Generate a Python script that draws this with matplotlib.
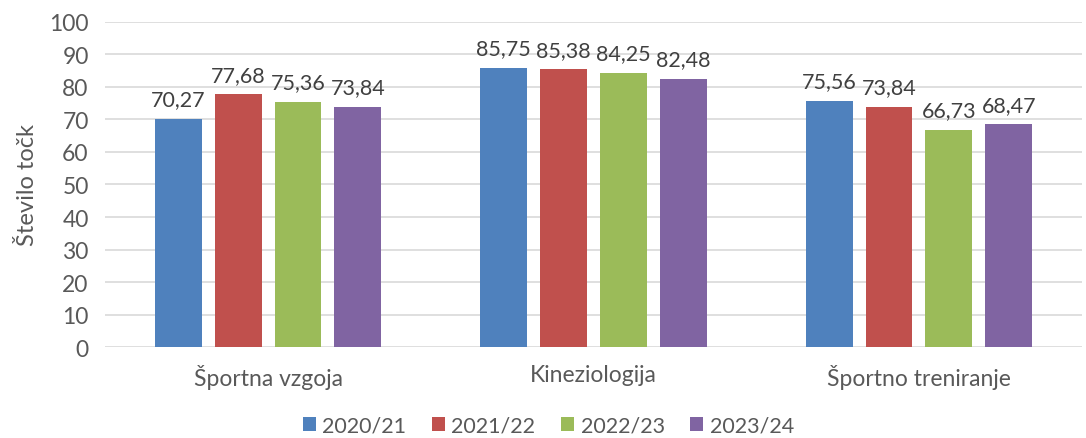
import matplotlib.pyplot as plt
import numpy as np

plt.rcParams['font.family'] = ['Lato', 'DejaVu Sans']

categories = ["Športna vzgoja", "Kineziologija", "Športno treniranje"]
seasons = ["2020/21", "2021/22", "2022/23", "2023/24"]
values = {
    "2020/21": [70.27, 85.75, 75.56],
    "2021/22": [77.68, 85.38, 73.84],
    "2022/23": [75.36, 84.25, 66.73],
    "2023/24": [73.84, 82.48, 68.47],
}
colors = ["#4f81bd", "#c0504d", "#9bbb59", "#8064a2"]

fig = plt.figure(figsize=(10.86, 4.39), dpi=100)
ax = fig.add_axes([0.097, 0.207, 0.899, 0.741])

x = np.arange(len(categories))
width = 0.144
step = 0.184
for i, s in enumerate(seasons):
    pos = x + (i - 1.5) * step
    bars = ax.bar(pos, values[s], width, color=colors[i], label=s, zorder=3)
    for b, v in zip(bars, values[s]):
        ax.text(b.get_x() + b.get_width() / 2, v + 3, f"{v:.2f}".replace(".", ","),
                ha="center", va="bottom", fontsize=15.5, color="#404040")

ax.set_xlim(-0.5, 2.5)
ax.set_ylim(0, 100)
ax.set_yticks(range(0, 101, 10))
ax.yaxis.grid(True, color="#d9d9d9", linewidth=1.2, zorder=0)
for sp in ax.spines.values():
    sp.set_visible(False)
ax.tick_params(axis="both", length=0, labelsize=16.5, colors="#595959")
ax.tick_params(axis="y", pad=12)
ax.tick_params(axis="x", pad=12)
ax.set_xticks(x)
ax.set_xticklabels(categories)
ax.set_ylabel("Število točk", fontsize=17, color="#595959", labelpad=8)

fig.legend(loc="lower center", bbox_to_anchor=(0.505, -0.038), ncol=4, frameon=False,
           fontsize=15.5, labelcolor="#595959", handlelength=0.6, handleheight=0.6,
           handletextpad=0.3, columnspacing=1.2)

fig.savefig("out.png", dpi=100)
